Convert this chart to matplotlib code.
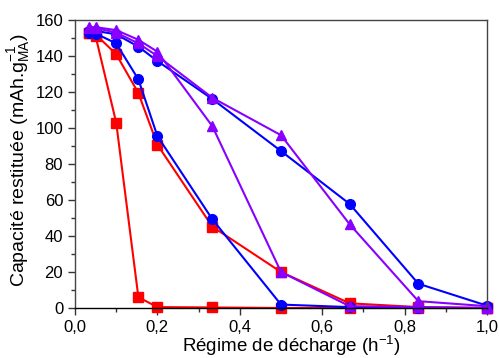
import matplotlib
matplotlib.use("Agg")
import matplotlib.pyplot as plt
from matplotlib.ticker import MultipleLocator, FuncFormatter

plt.rcParams['font.family'] = ['Liberation Sans', 'DejaVu Sans']
plt.rcParams['mathtext.fontset'] = 'custom'
plt.rcParams['mathtext.rm'] = 'Liberation Sans'
plt.rcParams['mathtext.it'] = 'Liberation Sans:italic'

# Discharge rates (h^-1)
rates = [1/30, 1/20, 1/10, 1/6.5, 1/5, 1/3, 1/2, 2/3, 5/6, 1.0]

# Delivered capacity (mAh/g) for each cell
red_a = [153, 151, 103, 6, 0.5, 0.3, 0, 0, 0, 0]
red_b = [153, 152, 141, 119.4, 90.7, 45.2, 20, 2.6, 0.5, 0]
blue_a = [153, 152.5, 147, 127, 95.5, 49.3, 1.9, 0.5, 0, 0]
blue_b = [154, 154, 152, 145.2, 137.2, 116.1, 87.2, 57.8, 13.5, 1.3]
violet_a = [156, 156, 154.4, 149, 142.4, 101, 20, 1, 0.5, 0]
violet_b = [155.5, 155.5, 153, 147, 140, 116.8, 96, 46.5, 3.8, 1]

fig = plt.figure(figsize=(4.99, 3.58), dpi=100)
ax = fig.add_axes([75/499, 1 - 308/358, 412/499, 288/358])

RED = '#ff0000'
BLUE = '#0000ff'
VIOLET = '#8800ff'
lw = 1.5
ms = 7

ax.plot(rates, red_a, '-s', color=RED, lw=lw, ms=ms - 0.5, clip_on=False)
ax.plot(rates, red_b, '-s', color=RED, lw=lw, ms=ms - 0.5, clip_on=False)
ax.plot(rates, blue_a, '-o', color=BLUE, lw=lw, ms=ms, clip_on=False)
ax.plot(rates, blue_b, '-o', color=BLUE, lw=lw, ms=ms, clip_on=False)
ax.plot(rates, violet_a, '-^', color=VIOLET, lw=lw, ms=ms + 0.5, clip_on=False)
ax.plot(rates, violet_b, '-^', color=VIOLET, lw=lw, ms=ms + 0.5, clip_on=False)

ax.set_xlim(0, 1.0)
ax.set_ylim(0, 160)
ax.xaxis.set_major_locator(MultipleLocator(0.2))
ax.xaxis.set_minor_locator(MultipleLocator(0.1))
ax.yaxis.set_major_locator(MultipleLocator(20))
ax.yaxis.set_minor_locator(MultipleLocator(10))
ax.xaxis.set_major_formatter(FuncFormatter(lambda v, p: f"{v:.1f}".replace('.', ',')))
ax.yaxis.set_major_formatter(FuncFormatter(lambda v, p: f"{v:.0f}"))

ax.tick_params(which='both', direction='out', top=False, right=False,
               labelsize=12, color='#333333')
ax.tick_params(which='major', length=5, width=1)
ax.tick_params(which='minor', length=3, width=1)
for sp in ax.spines.values():
    sp.set_color('#444444')
    sp.set_linewidth(1.0)
ax.spines['bottom'].set_color('black')

ax.set_xlabel(r"Régime de décharge (h$^{\mathregular{-1}}$)", fontsize=13.5)
ax.set_ylabel(r"Capacité restituée (mAh.g$_{\mathregular{MA}}^{\mathregular{-1}}$)",
              fontsize=14)
ax.xaxis.set_label_coords(0.525, -0.09)
ax.yaxis.set_label_coords(-0.104, 0.515)

fig.savefig("out.png", dpi=100)
